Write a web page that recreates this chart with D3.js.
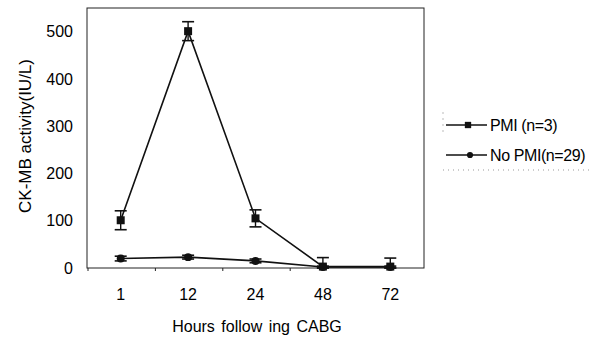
<!DOCTYPE html>
<html>
<head>
<meta charset="utf-8">
<script src="https://cdn.jsdelivr.net/npm/d3@7"></script>
<style>
  body { margin: 0; background: #fff; }
  svg { display: block; font-family: "Liberation Sans", Arial, sans-serif; }
</style>
</head>
<body>
<svg id="chart" width="606" height="338"></svg>
<script>
// Data
const hours = ["1", "12", "24", "48", "72"];
const pmiMean = [101, 501, 105, 3, 3];
const pmiErr = [20, 20, 18, 19, 18];
const noPmiMean = [20, 23, 15, 2, 2];
const noPmiErr = [5, 4, 4, 2, 2];
const yTicks = [0, 100, 200, 300, 400, 500];
const seriesNames = ["PMI (n=3)", "No PMI(n=29)"];

const svg = d3.select("#chart");
const plotL = 87, plotR = 424, plotT = 8, plotB = 268;

const x = d3.scaleBand().domain(hours).range([plotL, plotR]);
const y = d3.scaleLinear().domain([0, 550]).range([plotB, plotT]);

// Frame
svg.append("rect")
  .attr("x", plotL).attr("y", plotT)
  .attr("width", plotR - plotL).attr("height", plotB - plotT)
  .style("fill", "none").style("stroke", "#222").style("stroke-width", 1);

// y labels
svg.append("g").selectAll("text").data(yTicks).join("text")
  .attr("x", 73).attr("y", (d) => y(d))
  .attr("dy", "0.36em")
  .attr("text-anchor", "end")
  .style("font-size", "16px")
  .text((d) => d);

// x axis labels
const xAxis = d3.axisBottom(x).tickSize(0).tickPadding(0);
svg.append("g")
  .attr("transform", `translate(0,${plotB})`)
  .call(xAxis)
  .call((g) => g.select(".domain").remove())
  .call((g) => g.selectAll("text")
    .attr("y", 21).attr("dy", "0.71em")
    .style("font-size", "16px").style("font-family", "Liberation Sans, Arial, sans-serif")
    .attr("fill", "#000"));

// small ticks between categories
svg.append("g").selectAll("line").data(hours.slice(0, 4)).join("line")
  .attr("x1", (d) => x(d) + 1).attr("x2", (d) => x(d) + 1)
  .attr("y1", plotB).attr("y2", plotB + 3)
  .style("stroke", "#222");

// Axis titles
svg.append("text")
  .attr("transform", `translate(31,${136}) rotate(-90)`)
  .attr("text-anchor", "middle")
  .style("font-size", "17px")
  .text("CK-MB activity(IU/L)");

svg.append("text")
  .attr("x", 257).attr("y", 332)
  .attr("text-anchor", "middle")
  .style("font-size", "16px")
  .style("word-spacing", "2px")
  .text("Hours follow ing CABG");

// Series
const cx = (d) => x(d) + x.bandwidth() / 2;
const line = d3.line().x((d) => cx(d[0])).y((d) => y(d[1]));

function drawSeries(means, errs, marker) {
  const pts = hours.map((h, i) => [h, means[i], errs[i]]);
  const g = svg.append("g");
  g.append("path")
    .attr("d", line(pts))
    .style("fill", "none").style("stroke", "#111").style("stroke-width", 1.6);
  const eb = g.selectAll("g.eb").data(pts).join("g").attr("class", "eb");
  eb.append("line")
    .attr("x1", (d) => cx(d[0])).attr("x2", (d) => cx(d[0]))
    .attr("y1", (d) => y(d[1] + d[2])).attr("y2", (d) => y(Math.max(0, d[1] - d[2])))
    .style("stroke", "#111").style("stroke-width", 1.4);
  eb.append("line")
    .attr("x1", (d) => cx(d[0]) - 6).attr("x2", (d) => cx(d[0]) + 6)
    .attr("y1", (d) => y(d[1] + d[2])).attr("y2", (d) => y(d[1] + d[2]))
    .style("stroke", "#111").style("stroke-width", 1.6);
  eb.append("line")
    .attr("x1", (d) => cx(d[0]) - 6).attr("x2", (d) => cx(d[0]) + 6)
    .attr("y1", (d) => y(Math.max(0, d[1] - d[2]))).attr("y2", (d) => y(Math.max(0, d[1] - d[2])))
    .style("stroke", "#111").style("stroke-width", 1.6);
  eb.append("path")
    .attr("transform", (d) => `translate(${cx(d[0])},${y(d[1])})`)
    .attr("d", d3.symbol().type(marker).size(marker === d3.symbolSquare ? 64 : 50))
    .style("fill", "#111");
}
drawSeries(pmiMean, pmiErr, d3.symbolSquare);
drawSeries(noPmiMean, noPmiErr, d3.symbolCircle);

// Legend
const legend = svg.append("g");
const legY = [125, 155];
const markers = [d3.symbolSquare, d3.symbolCircle];
legend.append("line")
  .attr("x1", 443).attr("x2", 443).attr("y1", 112).attr("y2", 132)
  .style("stroke", "#bbb").style("stroke-dasharray", "2,4");
legend.append("line")
  .attr("x1", 443).attr("x2", 592).attr("y1", 170).attr("y2", 170)
  .style("stroke", "#999").style("stroke-dasharray", "1,4");
seriesNames.forEach((name, i) => {
  legend.append("line")
    .attr("x1", 446).attr("x2", 487).attr("y1", legY[i]).attr("y2", legY[i])
    .style("stroke", "#111").style("stroke-width", 1.6);
  legend.append("path")
    .attr("transform", `translate(${i === 0 ? 468 : 470},${legY[i]})`)
    .attr("d", d3.symbol().type(markers[i]).size(i === 0 ? 40 : 30))
    .style("fill", "#111");
  legend.append("text")
    .attr("x", 490).attr("y", legY[i])
    .attr("dy", "0.36em")
    .style("font-size", "16px")
    .style("letter-spacing", "-0.4px")
    .text(name);
});
</script>
</body>
</html>
